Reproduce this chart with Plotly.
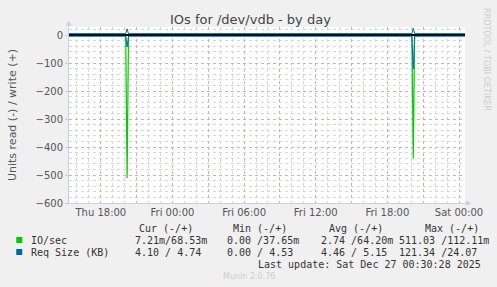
import plotly.graph_objects as go

# ---------------- data ----------------
title = "IOs for /dev/vdb - by day"
y_title = "Units read (-) / write (+)"

io_times = ["2025-12-25 15:20", "2025-12-25 20:05", "2025-12-25 20:12", "2025-12-25 20:19",
            "2025-12-26 20:03", "2025-12-26 20:10", "2025-12-26 20:17", "2025-12-27 00:30"]
io_read = [0.01, 0.01, 511.03, 0.01, 0.01, 440.0, 0.01, 0.0072]
io_write = [0.065, 0.065, 0.11, 0.065, 0.065, 0.112, 0.065, 0.0685]

rq_times = io_times
rq_read = [4.4, 4.4, 43.0, 4.4, 4.4, 121.34, 4.4, 4.10]
rq_write = [4.9, 4.9, 22.0, 4.9, 4.9, 24.07, 4.9, 4.74]

zero_rule = [0, 0]

x_tickvals = ["2025-12-25 18:00", "2025-12-25 21:00", "2025-12-26 00:00", "2025-12-26 03:00",
              "2025-12-26 06:00", "2025-12-26 09:00", "2025-12-26 12:00", "2025-12-26 15:00",
              "2025-12-26 18:00", "2025-12-26 21:00", "2025-12-27 00:00"]
x_ticktext = ["Thu 18:00", "", "Fri 00:00", "", "Fri 06:00", "", "Fri 12:00", "",
              "Fri 18:00", "", "Sat 00:00"]
x_range = ["2025-12-25 15:20", "2025-12-27 00:30"]
y_range = [-600, 28.6]

legend_header = ["Cur (-/+)", "Min (-/+)", "Avg (-/+)", "Max (-/+)"]
legend_names = ["IO/sec", "Req Size (KB)"]
legend_colors = ["#00CC00", "#0066B3"]
legend_rows = [
    ["7.21m/68.53m", "0.00 /37.65m", "2.74 /64.20m", "511.03 /112.11m"],
    ["4.10 / 4.74", "0.00 / 4.53", "4.46 / 5.15", "121.34 /24.07"],
]
last_update = "Last update: Sat Dec 27 00:30:28 2025"
munin_ver = "Munin 2.0.76"
rrd_credit = "RRDTOOL / TOBI OETIKER"

# ---------------- layout helpers ----------------
W, H = 497, 287
L, R, T, B = 67, 465, 27, 203


def px(x):
    return (x - L) / (R - L)


def py(y):
    return (B - y) / (B - T)


fig = go.Figure()
fig.add_trace(go.Scatter(x=io_times, y=[-v for v in io_read], mode="lines",
                         line=dict(color=legend_colors[0], width=1.2), showlegend=False))
fig.add_trace(go.Scatter(x=io_times, y=io_write, mode="lines",
                         line=dict(color=legend_colors[0], width=1), showlegend=False))
fig.add_trace(go.Scatter(x=x_range, y=zero_rule, mode="lines",
                         line=dict(color="#000000", width=2), showlegend=False))
fig.add_trace(go.Scatter(x=rq_times, y=[-v for v in rq_read], mode="lines",
                         line=dict(color=legend_colors[1], width=1), showlegend=False))
fig.add_trace(go.Scatter(x=rq_times, y=rq_write, mode="lines",
                         line=dict(color=legend_colors[1], width=1), showlegend=False))

axis_col = "#c8ccf2"
mono = "DejaVu Sans Mono"
sans = "DejaVu Sans"
txt_col = "#555555"

fig.update_layout(
    width=W, height=H,
    margin=dict(l=L, r=W - R, t=T, b=H - B, pad=0),
    paper_bgcolor="#F0F0F0",
    plot_bgcolor="#FFFFFF",
    showlegend=False,
    font=dict(family=sans, size=10, color=txt_col),
    xaxis=dict(
        type="date", range=x_range,
        tickmode="array", tickvals=x_tickvals, ticktext=x_ticktext,
        showgrid=True, gridcolor="#e6a8a8", griddash="dot", gridwidth=1,
        minor=dict(dtick=3600000, tick0="2025-12-25 00:00", showgrid=True,
                   gridcolor="#d8d8d8", griddash="dot", gridwidth=1),
        showline=True, linecolor=axis_col, linewidth=1,
        ticks="", tickfont=dict(family=sans, size=10, color=txt_col),
        zeroline=False, fixedrange=True,
    ),
    yaxis=dict(
        range=y_range, dtick=100, tick0=0,
        showgrid=True, gridcolor="#e6a8a8", griddash="dot", gridwidth=1,
        minor=dict(dtick=20, showgrid=True, gridcolor="#d8d8d8", griddash="dot", gridwidth=1),
        showline=True, linecolor=axis_col, linewidth=1,
        ticks="outside", ticklen=3, tickcolor=axis_col,
        tickfont=dict(family=sans, size=10, color=txt_col),
        zeroline=False,
        title=dict(text=y_title, font=dict(family=sans, size=11, color=txt_col), standoff=16),
        fixedrange=True,
    ),
)

ann = []
# title
ann.append(dict(x=px(249), y=py(19), text=title, showarrow=False, xanchor="center",
                yanchor="middle", font=dict(family=sans, size=13, color="#444444")))
# axis arrows
ann.append(dict(x=px(67), y=py(23), text="▲", showarrow=False, xanchor="center",
                yanchor="middle", font=dict(size=7, color=axis_col)))
ann.append(dict(x=px(469), y=py(203), text="▶", showarrow=False, xanchor="center",
                yanchor="middle", font=dict(size=7, color=axis_col)))
# rrdtool credit
ann.append(dict(x=px(487), y=py(60), text=rrd_credit, showarrow=False, textangle=90,
                xanchor="center", yanchor="middle", font=dict(family=sans, size=8, color="#cccccc")))

# legend header
hdr_x = [135, 230, 326, 423]
for t, x in zip(legend_header, hdr_x):
    ann.append(dict(x=px(x), y=py(228), text=t, showarrow=False, xanchor="left",
                    yanchor="middle", font=dict(family=mono, size=10, color="#333333")))

row_y = [240, 252]
col_x = [131, 224, 318, 397]
for i in range(2):
    ann.append(dict(x=px(27), y=py(row_y[i]), text=legend_names[i], showarrow=False,
                    xanchor="left", yanchor="middle", font=dict(family=mono, size=10, color="#333333")))
    for j in range(4):
        ann.append(dict(x=px(col_x[j]), y=py(row_y[i]), text=legend_rows[i][j], showarrow=False,
                        xanchor="left", yanchor="middle", font=dict(family=mono, size=10, color="#333333")))

ann.append(dict(x=px(483), y=py(264), text=last_update, showarrow=False, xanchor="right",
                yanchor="middle", font=dict(family=mono, size=10, color="#333333")))
ann.append(dict(x=px(248), y=py(276), text=munin_ver, showarrow=False, xanchor="center",
                yanchor="middle", font=dict(family=sans, size=8, color="#cccccc")))

for a in ann:
    a["xref"] = "paper"
    a["yref"] = "paper"
fig.update_layout(annotations=ann)

shapes = []
for i in range(2):
    shapes.append(dict(type="rect", xref="paper", yref="paper",
                       x0=px(14), x1=px(20), y0=py(row_y[i] + 3), y1=py(row_y[i] - 3),
                       fillcolor=legend_colors[i], line=dict(width=0)))
fig.update_layout(shapes=shapes)

fig.write_html("out.html")
